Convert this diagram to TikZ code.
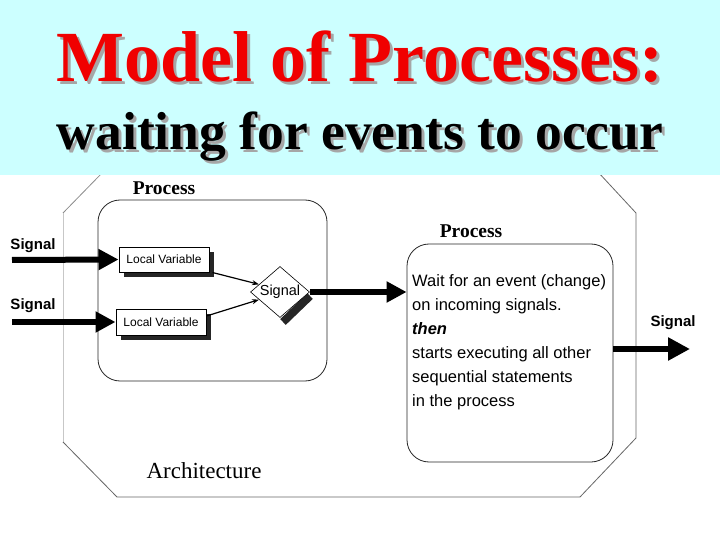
\documentclass[tikz,border=0pt]{standalone}
\usepackage{fontspec}
\setmainfont{Liberation Serif}
\setsansfont{Liberation Sans}
\usetikzlibrary{arrows.meta,shapes.geometric,calc,shadows}
\definecolor{band}{HTML}{CCFFFF}
\definecolor{titlered}{HTML}{F00000}
\newcommand\shadowedtext[1]{\rlap{\hspace{3pt}\raisebox{-3pt}{\color{black!35}#1}}#1}
\begin{document}
\begin{tikzpicture}[x=1pt,y=-1pt,
  procbox/.style={draw=black!85, line width=0.8pt, rounded corners=22pt, inner sep=0pt},
  proclabel/.style={font=\bfseries\fontsize{19.5}{22}\selectfont, anchor=base},
  lvbox/.style={draw, fill=white, line width=1pt, inner sep=0pt,
     font=\sffamily\fontsize{12}{14}\selectfont, minimum width=90pt, minimum height=25pt,
     drop shadow={shadow xshift=5pt, shadow yshift=-5pt, opacity=1, fill=black!85}},
  siglabel/.style={font=\sffamily\bfseries\fontsize{15}{17}\selectfont},
  bigarrow/.style={line width=6pt, -{Triangle[length=20pt,width=20pt]}},
  thinarrow/.style={line width=1.2pt, -{Stealth[length=7pt,width=5pt]}},
]
\useasboundingbox (0,0) rectangle (720,540);
% architecture outline
\draw[black!45, line width=0.8pt] (103,172) -- (63,213);
\draw[black!22, line width=1pt] (63,213) -- (63,442);
\draw[black!60, line width=0.8pt] (63,442) -- (117,497) -- (580,497);
\draw[black!60, line width=0.8pt] (580,497) -- (636,438) -- (636,213) -- (598,172);
% title band
\fill[band] (0,0) rectangle (720,175);
\node[anchor=base, text=titlered, font=\bfseries\fontsize{72}{80}\selectfont] (title) at (360,82) {\shadowedtext{Model of Processes:}};
\node[anchor=base, text=black, font=\bfseries\fontsize{53.5}{60}\selectfont] (subtitle) at (360,150) {\shadowedtext{waiting for events to occur}};
% processes
\node[procbox, minimum width=229pt, minimum height=181pt] (P1) at (212.5,290.5) {};
\node[proclabel] (P1l) at (164,195) {Process};
\node[procbox, minimum width=206pt, minimum height=218pt] (P2) at (510,353) {};
\node[proclabel] (P2l) at (471,237) {Process};
% local variables
\node[lvbox] (LV1) at (164,259.5) {Local Variable};
\node[lvbox, minimum height=26pt] (LV2) at (161,322) {Local Variable};
% diamond
\coordinate (Dc) at (280,292);
\draw[line width=8pt, black!85] ($(Dc)+(30,4)$) -- ($(Dc)+(3,30)$);
\node[draw, fill=white, shape=diamond, aspect=1.16, inner sep=0pt, line width=0.6pt,
      minimum width=59pt, minimum height=51pt, font=\sffamily\fontsize{14.5}{16}\selectfont] (D) at (Dc) {Signal};
% input signals
\coordinate (s1) at (12,260);
\coordinate (s2) at (12,322);
\draw[bigarrow] (s1) -- (LV1.west);
\draw[bigarrow] (s2) -- (LV2.west);
\node[siglabel] (sl1) at (33,246) {Signal};
\node[siglabel] (sl2) at (33,306) {Signal};
\draw[thinarrow] ($(LV1.south east)+(3,0)$) -- (D.160);
\draw[thinarrow] ($(LV2.east)+(0,-6)$) -- (D.200);
% diamond to process 2
\draw[bigarrow] (D.east) -- (D.east -| P2.west);
% output
\coordinate (out) at (690,349);
\draw[bigarrow, line width=6.5pt, -{Triangle[length=22pt,width=22pt]}] (P2.east |- out) -- (out);
\node[siglabel] (sl3) at (673,323) {Signal};
% process text
\node[anchor=north west, inner sep=0pt, align=left, font=\sffamily\fontsize{16.5}{24}\selectfont] (txt) at (412,274)
 {Wait for an event (change)\\on incoming signals.\\\textbf{\textit{then}}\\starts executing all other\\sequential statements\\in the process};
\node[anchor=base, font=\fontsize{23}{26}\selectfont] (arch) at (204,478) {Architecture};
\end{tikzpicture}
\end{document}
